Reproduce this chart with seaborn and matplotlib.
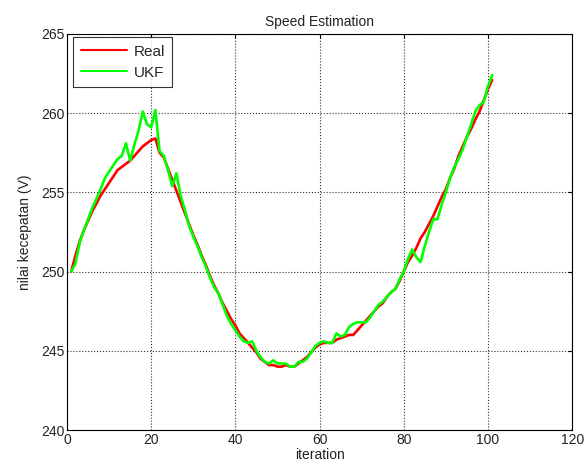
import numpy as np
import pandas as pd
import matplotlib
matplotlib.use("Agg")
import matplotlib.pyplot as plt
import seaborn as sns

iterations = list(range(1, 102))
real = [250.0, 251.0, 251.9, 252.6, 253.2, 253.8, 254.3, 254.8, 255.2, 255.6,
        256.0, 256.4, 256.6, 256.8, 257.0, 257.3, 257.6, 257.9, 258.1, 258.3,
        258.4, 257.5, 257.2, 256.5, 255.8, 255.1, 254.4, 253.7, 253.0, 252.3,
        251.7, 251.0, 250.4, 249.7, 249.1, 248.6, 248.0, 247.5, 247.0, 246.6,
        246.1, 245.8, 245.5, 245.2, 244.9, 244.5, 244.3, 244.1, 244.1, 244.0,
        244.0, 244.1, 244.0, 244.0, 244.2, 244.4, 244.6, 244.9, 245.2, 245.4,
        245.5, 245.5, 245.5, 245.7, 245.8, 245.9, 246.0, 246.0, 246.3, 246.6,
        246.9, 247.2, 247.5, 247.8, 248.0, 248.4, 248.7, 248.9, 249.4, 250.0,
        250.6, 251.0, 251.5, 252.1, 252.5, 253.0, 253.5, 254.1, 254.7, 255.2,
        255.9, 256.5, 257.3, 257.9, 258.5, 259.0, 259.6, 260.1, 260.8, 261.5,
        262.1]
ukf = [250.0, 250.5, 251.8, 252.6, 253.3, 254.0, 254.6, 255.2, 255.9, 256.3,
       256.7, 257.1, 257.3, 258.1, 257.0, 258.0, 258.9, 260.1, 259.3, 259.1,
       260.2, 257.6, 257.3, 256.4, 255.4, 256.2, 254.8, 253.9, 252.9, 252.2,
       251.6, 250.9, 250.3, 249.6, 249.0, 248.6, 247.9, 247.2, 246.7, 246.3,
       245.9, 245.6, 245.5, 245.6, 245.0, 244.6, 244.3, 244.2, 244.4, 244.2,
       244.2, 244.2, 244.0, 244.0, 244.3, 244.3, 244.5, 244.9, 245.3, 245.5,
       245.6, 245.5, 245.5, 246.1, 245.9, 246.0, 246.5, 246.7, 246.8, 246.8,
       246.8, 247.1, 247.5, 247.9, 248.1, 248.4, 248.7, 248.9, 249.5, 250.0,
       250.8, 251.4, 250.9, 250.6, 251.6, 252.5, 253.3, 253.3, 254.2, 255.0,
       255.9, 256.6, 257.1, 257.7, 258.5, 259.3, 260.1, 260.5, 260.7, 261.7,
       262.4]
series_names = ["Real", "UKF"]
x_ticks = [0, 20, 40, 60, 80, 100, 120]
y_ticks = [240, 245, 250, 255, 260, 265]

df = pd.DataFrame({
    "iteration": iterations * 2,
    "value": real + ukf,
    "series": [series_names[0]] * len(real) + [series_names[1]] * len(ukf),
})

sns.set_style("white")
plt.rcParams["font.family"] = ["Liberation Sans", "DejaVu Sans"]

fig = plt.figure(figsize=(5.85, 4.71), dpi=100)
ax = fig.add_axes([0.1145, 0.087, 0.8635, 0.841])

sns.lineplot(data=df, x="iteration", y="value", hue="series",
             palette={"Real": "#ff0000", "UKF": "#00ff00"},
             linewidth=1.9, ax=ax, sort=False, estimator=None)

ax.set_xlim(0, 120)
ax.set_ylim(240, 265)
ax.set_xticks(x_ticks)
ax.set_yticks(y_ticks)
ax.tick_params(direction="in", top=True, right=True, labelsize=10, length=3,
               color="black", labelcolor="#222222", pad=2)
ax.grid(True, linestyle=":", color="#333333", linewidth=0.8)
for s in ax.spines.values():
    s.set_visible(True)
    s.set_color("black")
    s.set_linewidth(0.8)

ax.set_title("Speed Estimation", fontsize=10, color="#222222", pad=6)
ax.set_xlabel("iteration", fontsize=10, color="#222222", labelpad=1)
ax.set_ylabel("nilai kecepatan (V)", fontsize=10, color="#222222", labelpad=6)

leg = ax.legend(loc="upper left", bbox_to_anchor=(0.012, 0.992),
                fontsize=11, frameon=True, fancybox=False,
                edgecolor="black", borderaxespad=0.0, handlelength=3.0,
                handletextpad=0.45, borderpad=0.5, labelspacing=0.45)
leg.get_frame().set_linewidth(0.8)
for line in leg.get_lines():
    line.set_linewidth(1.5)
leg.set_title(None)

fig.savefig("out.png", dpi=100)
